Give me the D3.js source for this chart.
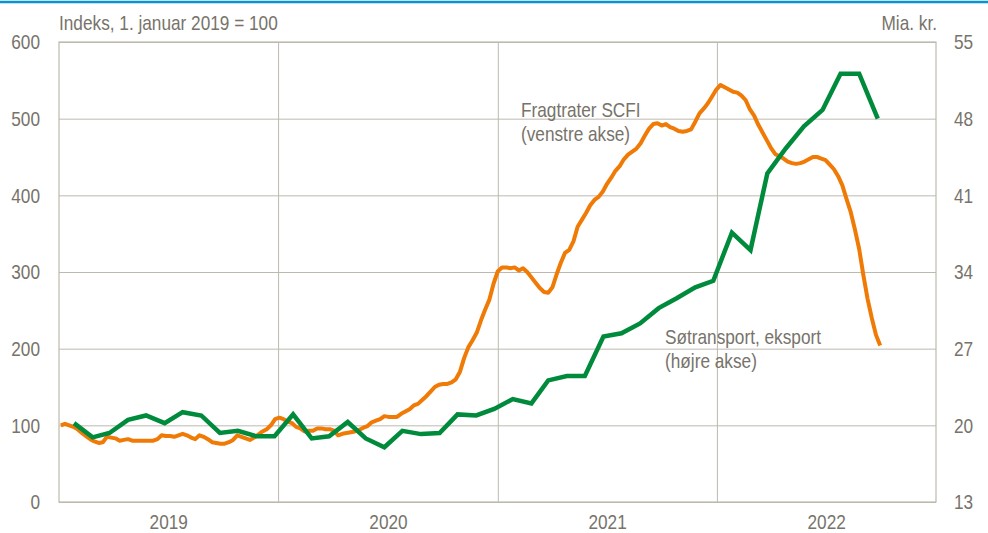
<!DOCTYPE html>
<html>
<head>
<meta charset="utf-8">
<script src="https://cdn.jsdelivr.net/npm/d3@7"></script>
<style>
  body { margin: 0; background: #fff; }
  svg text { font-family: "Liberation Sans", Arial, sans-serif; fill: #77736a; }
</style>
</head>
<body>
<svg id="chart" width="988" height="533"></svg>
<script>
// SCFI freight rates, weekly index (1 Jan 2019 = 100), from 4 Jan 2019
const scfiStart = new Date(2019, 0, 4);
const scfi = [
  100, 102, 100, 98, 95, 90, 86, 82, 79, 77, 78, 85, 84, 83, 80, 81, 82, 80, 80, 80,
  80, 80, 80, 82, 87, 86, 86, 85, 87, 89, 87, 84, 82, 87, 85, 82, 78, 77, 76, 76,
  78, 81, 87, 85, 83, 81, 84, 88, 92, 95, 100, 108, 110, 108, 105, 103, 98, 96, 92, 93,
  93, 96, 96, 95, 95, 93, 87, 89, 90, 91, 92, 94, 97, 99, 104, 106, 108, 112, 111, 111,
  111, 115, 118, 121, 126, 128, 133, 138, 144, 150, 153, 154, 154, 156, 160, 170, 188, 202, 211, 221,
  237, 251, 264, 285, 301, 306, 306, 305, 306, 302, 305, 300, 293, 286, 279, 274, 273, 280, 297, 312,
  325, 329, 340, 359, 368, 377, 387, 394, 398, 405, 415, 423, 432, 438, 447, 453, 457, 461, 468, 478,
  487, 493, 494, 491, 493, 489, 487, 484, 483, 484, 486, 496, 507, 513, 520, 529, 538, 544, 541, 538,
  535, 534, 530, 524, 512, 504, 492, 482, 472, 462, 454, 451, 448, 444, 442, 441, 442, 444, 447, 450,
  450, 448, 446, 440, 434, 425, 413, 395, 378, 355, 330, 296, 265, 240, 218, 204
];

// Sea transport exports, bn. kr., monthly Jan 2019 - Sep 2022
const exportMonths = d3.range(45).map(i => new Date(2019, i, 26));
const exports = [
  20.2, 18.9, 19.3, 20.5, 20.9, 20.2, 21.2, 20.9, 19.3, 19.5, 19.0, 19.0,
  21.0, 18.8, 19.0, 20.3, 18.8, 18.0, 19.5, 19.2, 19.3, 21.0, 20.9, 21.5,
  22.4, 22.0, 24.1, 24.5, 24.5, 28.1, 28.4, 29.3, 30.7, 31.6, 32.6, 33.2,
  37.6, 36.0, 43.0, 45.3, 47.3, 48.8, 52.1, 52.1, 48.0
];

const leftTicks = [0, 100, 200, 300, 400, 500, 600];
const rightTicks = [13, 20, 27, 34, 41, 48, 55];
const years = [2019, 2020, 2021, 2022];

const svg = d3.select("#chart");
const margin = { top: 42, right: 52, bottom: 31, left: 59 };
const width = +svg.attr("width") - margin.left - margin.right;
const height = +svg.attr("height") - margin.top - margin.bottom;

const gridColor = "#bdb9ad";
const textColor = "#77736a";
const orange = "#f07a06";
const green = "#008a3c";
const fontSize = "21px";

// blue rule at top
svg.append("line")
  .attr("x1", 0).attr("x2", 988).attr("y1", 2).attr("y2", 2)
  .attr("stroke", "#0a93d3").attr("stroke-width", 2.5);

const g = svg.append("g").attr("transform", `translate(${margin.left},${margin.top})`);

const x = d3.scaleTime().domain([new Date(2019, 0, 1), new Date(2023, 0, 1)]).range([0, width]);
const yL = d3.scaleLinear().domain([0, 600]).range([height, 0]);
const yR = d3.scaleLinear().domain([13, 55]).range([height, 0]);

// horizontal grid + left labels
const leftAxis = g.append("g")
  .call(d3.axisLeft(yL).tickValues(leftTicks).tickSize(-width).tickPadding(19));
leftAxis.select(".domain").remove();
leftAxis.selectAll("line").attr("stroke", gridColor);
leftAxis.selectAll("text").style("font-size", fontSize).attr("fill", textColor);

// right labels
const rightAxis = g.append("g")
  .attr("transform", `translate(${width},0)`)
  .call(d3.axisRight(yR).tickValues(rightTicks).tickSize(0).tickPadding(18));
rightAxis.select(".domain").remove();
rightAxis.selectAll("text").style("font-size", fontSize).attr("fill", textColor);

// vertical year grid
const yearGrid = g.append("g")
  .attr("transform", `translate(0,${height})`)
  .call(d3.axisBottom(x).tickValues(years.slice(1).map(yr => new Date(yr, 0, 1))).tickSize(-height).tickFormat(""));
yearGrid.select(".domain").remove();
yearGrid.selectAll("line").attr("stroke", gridColor);

// year labels mid-year
const yearAxis = g.append("g")
  .attr("transform", `translate(0,${height})`)
  .call(d3.axisBottom(x).tickValues(years.map(yr => new Date(yr, 6, 2))).tickSize(0).tickPadding(12).tickFormat(d3.timeFormat("%Y")));
yearAxis.select(".domain").remove();
yearAxis.selectAll("text").style("font-size", fontSize).attr("fill", textColor);

// frame
g.append("rect")
  .attr("width", width).attr("height", height)
  .attr("fill", "none").attr("stroke", gridColor).attr("stroke-width", 1.2);

// lines
const scfiLine = d3.line()
  .x((d, i) => x(d3.timeWeek.offset(scfiStart, i)))
  .y(d => yL(d));
g.append("path")
  .attr("d", scfiLine(scfi))
  .attr("fill", "none").attr("stroke", orange)
  .attr("stroke-width", 4).attr("stroke-linejoin", "round");

const exportLine = d3.line()
  .x((d, i) => x(exportMonths[i]))
  .y(d => yR(d));
g.append("path")
  .attr("d", exportLine(exports))
  .attr("fill", "none").attr("stroke", green)
  .attr("stroke-width", 4.5).attr("stroke-linejoin", "miter");

// titles
svg.append("text").attr("x", 59).attr("y", 30)
  .style("font-size", fontSize).text("Indeks, 1. januar 2019 = 100");
svg.append("text").attr("x", 937).attr("y", 30).attr("text-anchor", "end")
  .style("font-size", fontSize).text("Mia. kr.");

// series labels
const labels = [
  { x: 521, y: 117, lines: ["Fragtrater SCFI", "(venstre akse)"] },
  { x: 665, y: 344, lines: ["Søtransport, eksport", "(højre akse)"] }
];
labels.forEach(l => {
  l.lines.forEach((t, i) => {
    svg.append("text").attr("x", l.x).attr("y", l.y + i * 24)
      .style("font-size", fontSize).text(t);
  });
});

// narrow the type, the original uses a condensed face
svg.selectAll("text").each(function () {
  const w = this.getComputedTextLength();
  d3.select(this).attr("textLength", w * 0.82).attr("lengthAdjust", "spacingAndGlyphs");
});
</script>
</body>
</html>
